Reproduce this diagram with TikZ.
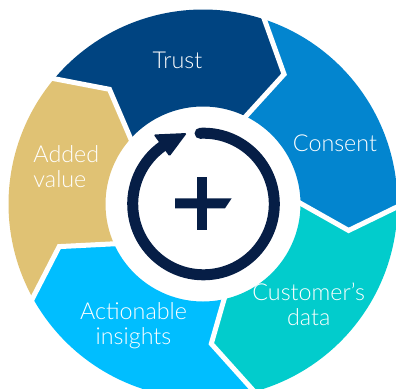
\documentclass[tikz,border=0pt]{standalone}
\usepackage{fontspec}
\setmainfont{Lato Light}
\usetikzlibrary{calc}
\definecolor{trustc}{HTML}{004481}
\definecolor{consentc}{HTML}{0385CF}
\definecolor{customerc}{HTML}{02CCCC}
\definecolor{actionc}{HTML}{00BEFF}
\definecolor{addedc}{HTML}{E0C274}
\definecolor{navyc}{HTML}{061E46}
\begin{document}
\begin{tikzpicture}[x=1pt,y=1pt,
  gapline/.style={draw=white,line width=5pt,line join=miter},
  lab/.style={text=white,font=\fontsize{23.3}{24.4}\selectfont,inner sep=0pt,align=center},
  icon/.style={fill=navyc,draw=none}]
\useasboundingbox (-203,-184) rectangle (193,204);
% outer corners, arrow tips and inner corners of the five joints
\coordinate (o1) at (71.6:194.5pt);  \coordinate (t1) at (58.0:153pt);   \coordinate (i1) at (64.0:97.5pt);
\coordinate (o2) at (-0.8:194.5pt);  \coordinate (t2) at (-10.3:148pt);  \coordinate (i2) at (0.4:97.5pt);
\coordinate (o3) at (-74.7:194.5pt); \coordinate (t3) at (-86.6:140pt);  \coordinate (i3) at (-77.5:97.5pt);
\coordinate (o4) at (-151.1:194.5pt);\coordinate (t4) at (-163.5:150pt); \coordinate (i4) at (-155.9:97.5pt);
\coordinate (o5) at (139.9:194.5pt); \coordinate (t5) at (129.2:148pt);  \coordinate (i5) at (137.9:97.5pt);
% ring segments, running clockwise
\fill[trustc] (o5) arc[start angle=139.9,end angle=71.6,radius=194.5pt] -- (t1) -- (i1)
  arc[start angle=64.0,end angle=137.9,radius=97.5pt] -- (t5) -- cycle;
\fill[consentc] (o1) arc[start angle=71.6,end angle=-0.8,radius=194.5pt] -- (t2) -- (i2)
  arc[start angle=0.4,end angle=64.0,radius=97.5pt] -- (t1) -- cycle;
\fill[customerc] (o2) arc[start angle=-0.8,end angle=-74.7,radius=194.5pt] -- (t3) -- (i3)
  arc[start angle=-77.5,end angle=0.4,radius=97.5pt] -- (t2) -- cycle;
\fill[actionc] (o3) arc[start angle=-74.7,end angle=-151.1,radius=194.5pt] -- (t4) -- (i4)
  arc[start angle=-155.9,end angle=-77.5,radius=97.5pt] -- (t3) -- cycle;
\fill[addedc] (o4) arc[start angle=-151.1,end angle=-220.1,radius=194.5pt] -- (t5) -- (i5)
  arc[start angle=-222.1,end angle=-155.9,radius=97.5pt] -- (t4) -- cycle;
% white gaps between the segments
\foreach \k in {1,...,5}{
  \draw[gapline] ($(t\k)!1.2!(o\k)$) -- (t\k) -- ($(t\k)!1.25!(i\k)$);
}
% circular arrow and plus sign
\coordinate (hub) at (0.5,0);
\draw[navyc,line width=11pt,line cap=round] ($(hub)+(92.8:70.8pt)$)
  arc[start angle=92.8,end angle=-239,radius=70.8pt];
\fill[icon,rounded corners=1.5pt] (-49.5,69.5) -- (-16,71) -- (-33.5,47.5) -- cycle;
\fill[icon] (-6.3,-26) rectangle (4.3,27.3);
\fill[icon] (-28,-4.3) -- (-28,5.7) -- (28.7,5.7) -- (22,-4.3) -- cycle;
% labels
\node[lab] (trust) at (-25.5,144) {Trust};
\node[lab] (consent) at (132,60.7) {Consent};
\node[lab] (custdata) at (105.7,-100.3) {Customer’s\\data};
\node[lab] (insights) at (-69.5,-121.8) {Actionable\\insights};
\node[lab,align=left,anchor=west] (added) at (-169.7,37.3) {Added\\value};
\end{tikzpicture}
\end{document}
